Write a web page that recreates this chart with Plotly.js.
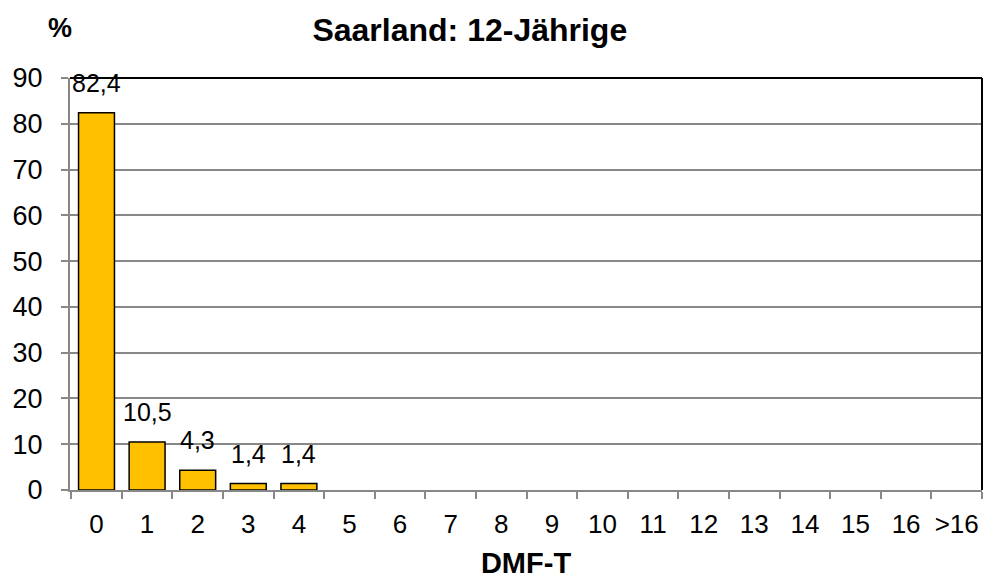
<!DOCTYPE html>
<html>
<head>
<meta charset="utf-8">
<script src="https://cdn.plot.ly/plotly-3.0.1.min.js"></script>
<style>html,body{margin:0;padding:0;background:#fff;}#chart{width:987px;height:581px;}</style>
</head>
<body>
<div id="chart"></div>
<script>
const categories = ["0","1","2","3","4","5","6","7","8","9","10","11","12","13","14","15","16",">16"];
const values = [82.4, 10.5, 4.3, 1.4, 1.4, 0, 0, 0, 0, 0, 0, 0, 0, 0, 0, 0, 0, 0];
const labels = ["82,4", "10,5", "4,3", "1,4", "1,4", "", "", "", "", "", "", "", "", "", "", "", "", ""];
const yTicks = [0, 10, 20, 30, 40, 50, 60, 70, 80, 90];

const FONT = "Liberation Sans, Arial, sans-serif";

const trace = {
  type: "bar",
  x: categories,
  y: values,
  marker: {color: "#FFC000", line: {color: "#000000", width: values.map(v => v > 0 ? 1.5 : 0)}},
  hoverinfo: "skip"
};

const annotations = labels.map((t, i) => ({
  x: categories[i], y: values[i], xref: "x", yref: "y",
  text: t, showarrow: false, yanchor: "bottom", yshift: 14,
  font: {family: FONT, size: 25, color: "#000"}
})).filter(a => a.text !== "");

annotations.push({
  xref: "paper", yref: "paper", x: -0.011, y: 1.122, xanchor: "center", yanchor: "middle",
  text: "<b>%</b>", showarrow: false,
  font: {family: FONT, size: 27, color: "#000"}
});

const layout = {
  width: 987, height: 581,
  margin: {l: 70, r: 5, t: 78, b: 91},
  paper_bgcolor: "#fff", plot_bgcolor: "#fff",
  showlegend: false,
  bargap: 0.29,
  font: {family: FONT, color: "#000"},
  title: {text: "<b>Saarland: 12-Jährige</b>", x: 0.476, xref: "container", xanchor: "center",
          y: 0.948, yref: "container", yanchor: "middle",
          font: {family: FONT, size: 32, color: "#000"}},
  xaxis: {
    type: "category",
    tickson: "boundaries",
    tickangle: 0,
    ticks: "outside", ticklen: 7, tickcolor: "#888", tickwidth: 2,
    showline: true, linecolor: "#888", linewidth: 2,
    showgrid: false, zeroline: false,
    automargin: false,
    tickfont: {family: FONT, size: 26, color: "#000"},
    ticklabelstandoff: 10,
    title: {text: "<b>DMF-T</b>", font: {family: FONT, size: 29, color: "#000"}, standoff: 14}
  },
  yaxis: {
    range: [0, 90],
    tickvals: yTicks,
    ticks: "outside", ticklen: 7, tickcolor: "#888", tickwidth: 2,
    showline: true, linecolor: "#888", linewidth: 2,
    showgrid: true, gridcolor: "#888", gridwidth: 2,
    zeroline: false,
    automargin: false,
    tickfont: {family: FONT, size: 27, color: "#000"},
    ticklabelstandoff: 13
  },
  shapes: [
    {type: "line", xref: "paper", yref: "paper", x0: 0, x1: 1, y0: 1, y1: 1, line: {color: "#000", width: 2}},
    {type: "line", xref: "paper", yref: "paper", x0: 1, x1: 1, y0: 0, y1: 1, line: {color: "#000", width: 2}}
  ],
  annotations: annotations
};

Plotly.newPlot("chart", [trace], layout, {displayModeBar: false, staticPlot: true});
</script>
</body>
</html>
